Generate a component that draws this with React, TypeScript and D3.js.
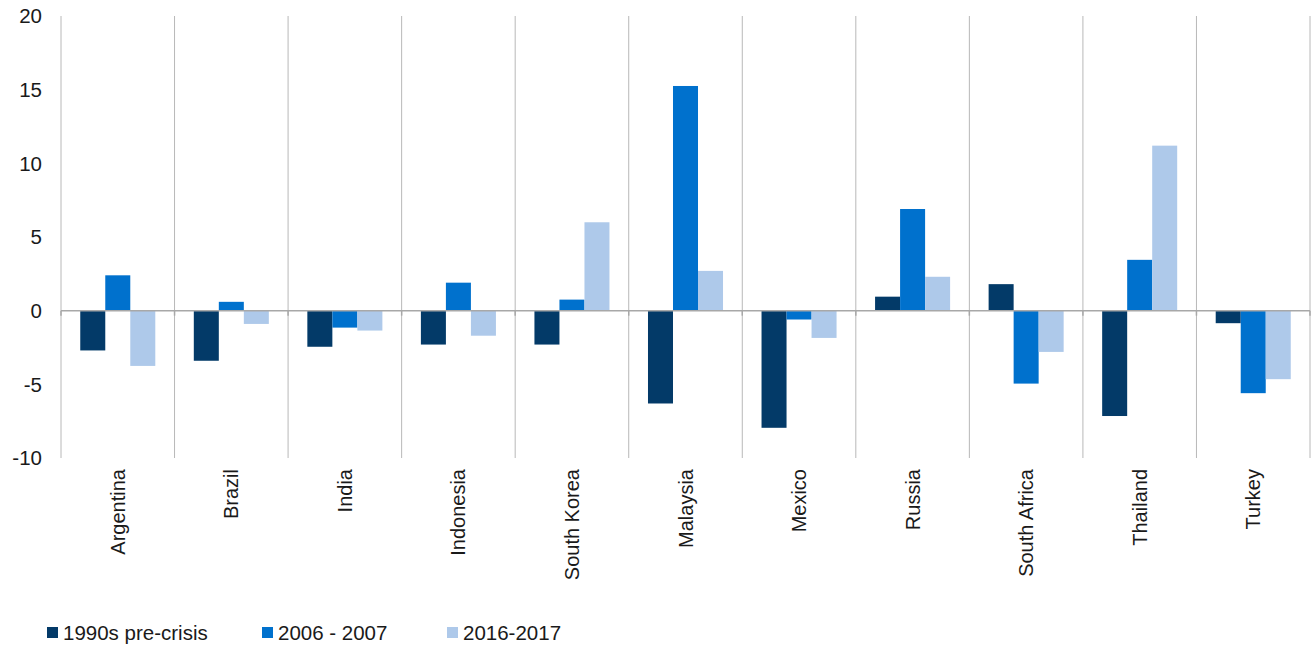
import React from "react";
import * as d3 from "d3";

const categories = ["Argentina", "Brazil", "India", "Indonesia", "South Korea", "Malaysia", "Mexico", "Russia", "South Africa", "Thailand", "Turkey"];
const seriesNames = ["1990s pre-crisis", "2006 - 2007", "2016-2017"];
const s1990 = [-2.7, -3.4, -2.45, -2.3, -2.3, -6.3, -7.95, 0.95, 1.8, -7.15, -0.85];
const s2006 = [2.4, 0.6, -1.15, 1.9, 0.75, 15.25, -0.6, 6.9, -4.95, 3.45, -5.6];
const s2016 = [-3.75, -0.9, -1.35, -1.7, 6.0, 2.7, -1.85, 2.3, -2.8, 11.2, -4.65];
const colors = ["#033a68", "#0071cd", "#aec9ea"];
const yTicks = [-10, -5, 0, 5, 10, 15, 20];

export default function App() {
  const W = 1313, H = 650;
  const left = 61, right = 1310, top = 16, bottom = 458;
  const x = d3.scaleBand<string>().domain(categories).range([left, right]).paddingInner(0).paddingOuter(0);
  const y = d3.scaleLinear().domain([-10, 20]).range([bottom, top]);
  const inner = d3.scaleBand<number>().domain([0, 1, 2]).range([0, x.bandwidth()]).paddingInner(0).paddingOuter(0.77);
  const series = [s1990, s2006, s2016];
  const font = "'Liberation Sans', Arial, sans-serif";
  const separators = categories.map((c) => x(c)!).concat([right]);
  const legendX = [47, 262, 447];
  return (
    <svg width={W} height={H} style={{ position: "absolute", left: 0, top: 0, background: "#fff" }} fontFamily={font}>
      {separators.map((sx, i) => (
        <line key={i} x1={sx} x2={sx} y1={top} y2={bottom} stroke="#b8b8b8" strokeWidth={1} />
      ))}
      {yTicks.map((t) => (
        <text key={t} x={42} y={y(t)} dy="0.35em" textAnchor="end" fontSize={20.5} fill="#1a1a1a">{t}</text>
      ))}
      {series.map((vals, si) =>
        vals.map((v, ci) => {
          const bx = x(categories[ci])! + inner(si)!;
          const y0 = y(0), y1 = y(v);
          return (
            <rect key={si + "-" + ci} x={bx} y={Math.min(y0, y1)} width={inner.bandwidth()} height={Math.abs(y1 - y0)} fill={colors[si]} />
          );
        })
      )}
      <line x1={left} x2={right} y1={y(0)} y2={y(0)} stroke="#a8a8a8" strokeWidth={1.5} />
      {separators.map((sx, i) => (
        <line key={"t" + i} x1={sx} x2={sx} y1={y(0)} y2={y(0) + 5} stroke="#a8a8a8" strokeWidth={1.5} />
      ))}
      {categories.map((c) => {
        const cx = x(c)! + x.bandwidth() / 2;
        return (
          <text key={c} transform={`translate(${cx},${469}) rotate(-90)`} textAnchor="end" dy="0.35em" fontSize={20} fill="#1a1a1a">{c}</text>
        );
      })}
      {seriesNames.map((n, i) => (
        <g key={n}>
          <rect x={legendX[i]} y={627} width={11} height={11} fill={colors[i]} />
          <text x={legendX[i] + 16} y={633} dy="0.35em" fontSize={20.5} fill="#1a1a1a">{n}</text>
        </g>
      ))}
    </svg>
  );
}
